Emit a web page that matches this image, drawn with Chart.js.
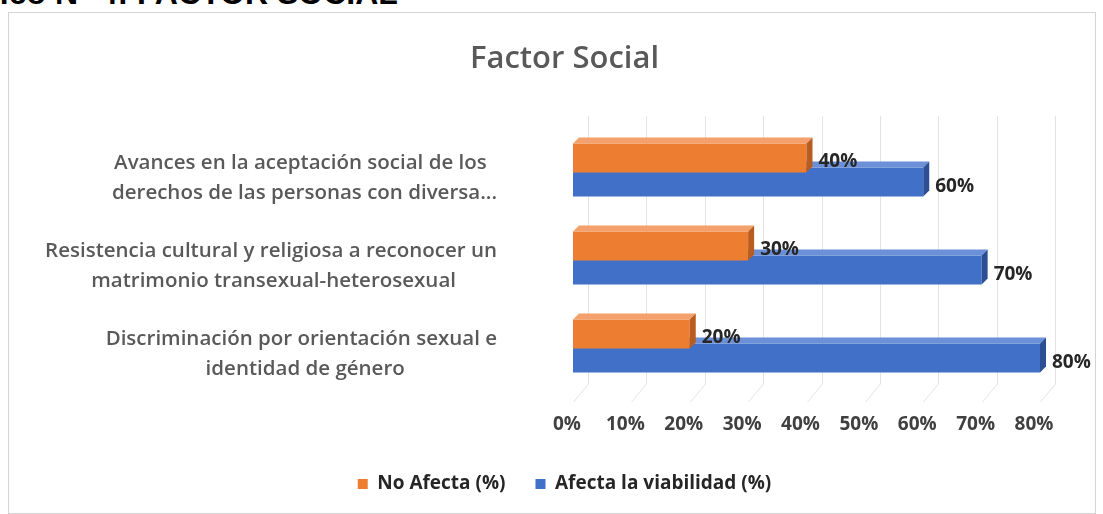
<!DOCTYPE html>
<html lang="es">
<head>
  <meta charset="UTF-8">
  <title>Factor Social</title>
  <script src="https://cdn.jsdelivr.net/npm/chart.js"></script>
  <style>
    body { margin: 0; background: #fff; width: 1103px; height: 514px; overflow: hidden; position: relative; }
    #caption { position: absolute; left: -66px; top: -23px; font: bold 32px "Liberation Sans", Arial, sans-serif; line-height: 32px; color: #000; white-space: nowrap; }
    #box { position: absolute; left: 8px; top: 12px; width: 1086px; height: 500px; border: 1px solid #d4d4d4; }
  </style>
</head>
<body>
  <div id="caption">Gráfico N° 4: FACTOR SOCIAL</div>
  <div id="box"><canvas id="chart" width="1086" height="500"></canvas></div>

  <script>
    // chart data
    const categories = [
      ['Avances en la aceptación social de los', 'derechos de las personas con diversa...'],
      ['Resistencia cultural y religiosa a reconocer un', 'matrimonio transexual-heterosexual'],
      ['Discriminación por orientación sexual e', 'identidad de género']
    ];
    const noAfecta = [40, 30, 20];
    const afecta = [60, 70, 80];
    const xTicks = [0, 10, 20, 30, 40, 50, 60, 70, 80];

    const DEPTH = 6;
    const WALL = 15; // back wall offset of the 3D grid
    const FONT = '"Open Sans", sans-serif';
    const labelFont = '600 20.5px ' + FONT;

    // Excel centres the lines of a wrapped label inside its block; pad the shorter lines
    const measure = document.createElement('canvas').getContext('2d');
    measure.font = labelFont;
    const spaceW = measure.measureText('\u2002').width;
    function centreLines(lines) {
      const widths = lines.map(l => measure.measureText(l).width);
      const max = Math.max(...widths);
      return lines.map((l, i) => l + '\u2002'.repeat(Math.round((max - widths[i]) / 2 / spaceW)));
    }

    // the y labels are wider than the axis box (title is centred on the whole chart),
    // so open the axis clip area to the left edge of the canvas
    const wideLabels = {
      id: 'wideLabels',
      afterLayout(chart) { chart.scales.y.left = 0; }
    };

    // grid lines on the back wall + floor, like the 3D Excel chart
    const wallGrid = {
      id: 'wallGrid',
      beforeDatasetsDraw(chart) {
        const { ctx, chartArea, scales: { x } } = chart;
        ctx.save();
        ctx.strokeStyle = '#e3e3e3';
        ctx.lineWidth = 1;
        xTicks.forEach(v => {
          const px = Math.round(x.getPixelForValue(v)) + 0.5;
          ctx.beginPath();
          ctx.moveTo(px + WALL, chartArea.top - 10);
          ctx.lineTo(px + WALL, chartArea.bottom - 6);
          ctx.lineTo(px, chartArea.bottom + 12);
          ctx.stroke();
        });
        ctx.restore();
      }
    };

    // fake 3D faces on the bars (top and right side)
    const bar3d = {
      id: 'bar3d',
      afterDatasetDraw(chart, args) {
        const ctx = chart.ctx;
        const ds = chart.data.datasets[args.index];
        ctx.save();
        args.meta.data.forEach(el => {
          const top = el.y - el.height / 2, bottom = el.y + el.height / 2;
          ctx.fillStyle = ds.topColor;
          ctx.beginPath();
          ctx.moveTo(el.base, top);
          ctx.lineTo(el.base + DEPTH, top - DEPTH);
          ctx.lineTo(el.x + DEPTH, top - DEPTH);
          ctx.lineTo(el.x, top);
          ctx.closePath();
          ctx.fill();
          ctx.fillStyle = ds.sideColor;
          ctx.beginPath();
          ctx.moveTo(el.x, top);
          ctx.lineTo(el.x + DEPTH, top - DEPTH);
          ctx.lineTo(el.x + DEPTH, bottom - DEPTH);
          ctx.lineTo(el.x, bottom);
          ctx.closePath();
          ctx.fill();
        });
        ctx.restore();
      }
    };

    // value labels at the end of each bar
    const valueLabels = {
      id: 'valueLabels',
      afterDatasetsDraw(chart) {
        const ctx = chart.ctx;
        ctx.save();
        ctx.font = 'bold 19px ' + FONT;
        ctx.fillStyle = '#262626';
        ctx.textBaseline = 'middle';
        ctx.textAlign = 'left';
        chart.data.datasets.forEach((ds, di) => {
          chart.getDatasetMeta(di).data.forEach((el, i) => {
            ctx.fillText(ds.data[i] + '%', el.x + DEPTH + 6, el.y + 4);
          });
        });
        ctx.restore();
      }
    };

    new Chart(document.getElementById('chart'), {
      type: 'bar',
      data: {
        labels: categories.map(centreLines),
        datasets: [
          {
            label: 'No Afecta (%)',
            data: noAfecta,
            backgroundColor: '#ed7d31',
            topColor: '#f4a06a',
            sideColor: '#b85d1f',
            categoryPercentage: 0.55,
            barPercentage: 1.2
          },
          {
            label: 'Afecta la viabilidad (%)',
            data: afecta,
            backgroundColor: '#4170c8',
            topColor: '#6b90d8',
            sideColor: '#2c4f94',
            categoryPercentage: 0.55,
            barPercentage: 1.2
          }
        ]
      },
      options: {
        indexAxis: 'y',
        responsive: false,
        animation: false,
        layout: { padding: { left: 80, right: 55, top: 0, bottom: 9.5 } },
        plugins: {
          title: {
            display: true,
            text: 'Factor Social',
            color: '#595959',
            font: { family: FONT, size: 31, weight: '600' },
            padding: { top: 27.4, bottom: 48.4 }
          },
          legend: {
            position: 'bottom',
            labels: {
              color: '#262626',
              font: { family: FONT, size: 19, weight: 'bold' },
              boxWidth: 10,
              boxHeight: 10,
              padding: 30
            }
          },
          tooltip: { enabled: false }
        },
        scales: {
          x: {
            min: 0,
            max: 80,
            afterBuildTicks: scale => { scale.ticks = xTicks.map(v => ({ value: v })); },
            afterFit: scale => { scale.height = 54.5; },
            ticks: {
              callback: v => v + '%',
              color: '#404040',
              font: { family: FONT, size: 19, weight: 'bold' },
              padding: 15,
              labelOffset: -6
            },
            grid: { display: false },
            border: { display: false }
          },
          y: {
            afterFit: scale => { scale.width = 484; },
            ticks: {
              color: '#595959',
              font: { family: FONT, size: 20.5, weight: '600', lineHeight: 1.45 },
              padding: 68,
              labelOffset: 8
            },
            grid: { display: false },
            border: { display: false }
          }
        }
      },
      plugins: [wideLabels, wallGrid, bar3d, valueLabels]
    });
  </script>
</body>
</html>
